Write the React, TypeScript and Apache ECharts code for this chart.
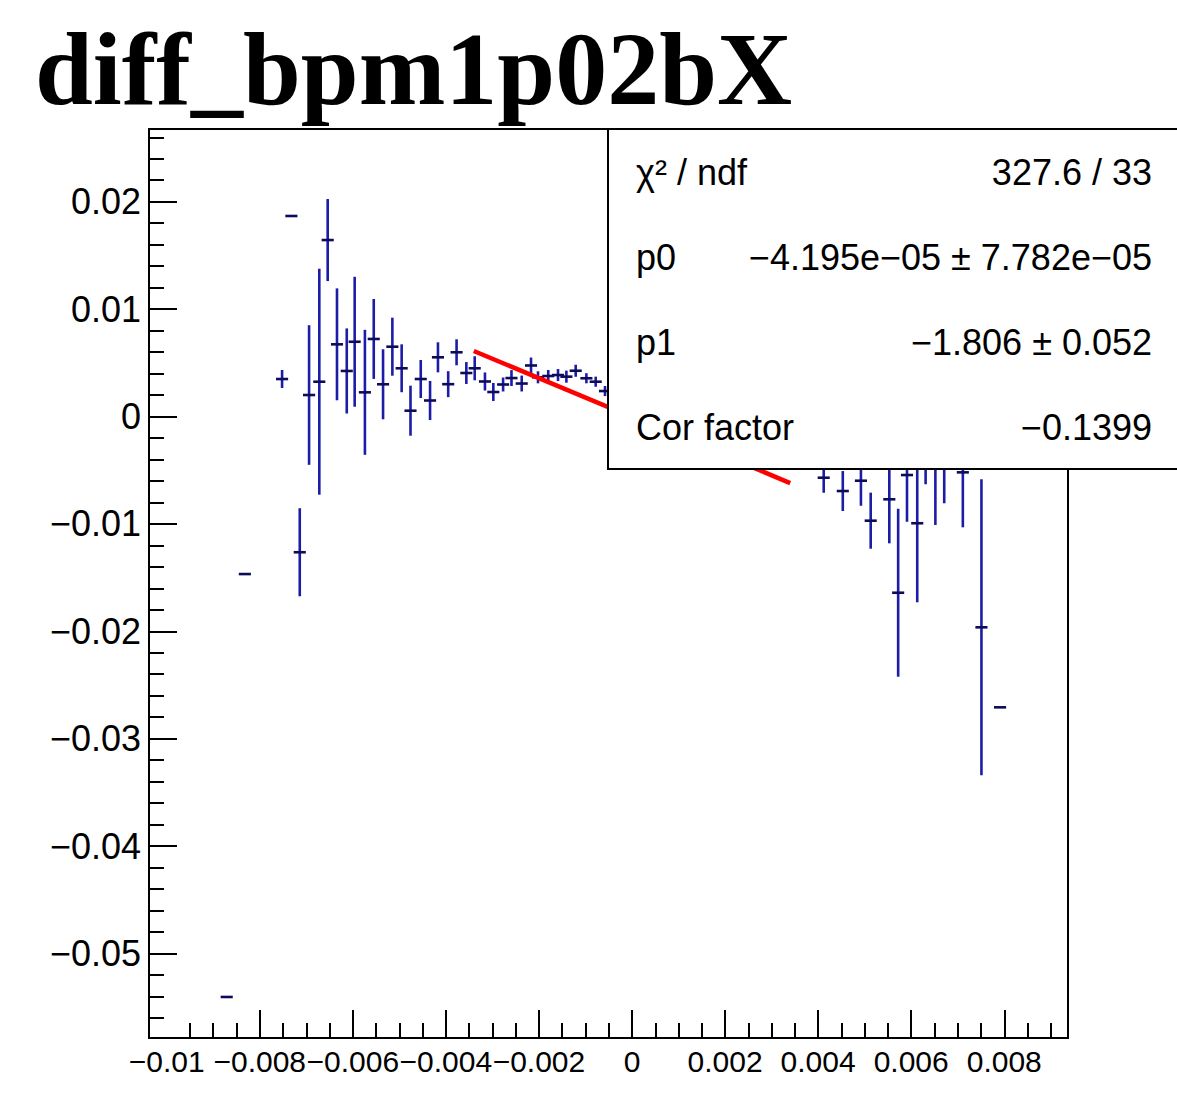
import React, { useEffect, useRef } from "react";
import * as echarts from "echarts";

// ---------- axis ranges ----------
const X_MIN = -0.01038;
const X_MAX = 0.00937;
const Y_MIN = -0.05787;
const Y_MAX = 0.02677;

// ---------- tick labels ----------
const xTickLabels = [-0.01, -0.008, -0.006, -0.004, -0.002, 0, 0.002, 0.004, 0.006, 0.008];
const xMajorTicks = [-0.008, -0.006, -0.004, -0.002, 0, 0.002, 0.004, 0.006, 0.008];
const yTickLabels = [-0.05, -0.04, -0.03, -0.02, -0.01, 0, 0.01, 0.02];

// ---------- data points (profile) ----------
const xVals = [
  -0.00871, -0.00832, -0.00752, -0.00732, -0.00714, -0.00694, -0.00672, -0.00654,
  -0.00634, -0.00613, -0.00596, -0.00574, -0.00555, -0.00535, -0.00515, -0.00495,
  -0.00476, -0.00454, -0.00434, -0.00417, -0.00395, -0.00377, -0.00356, -0.00338,
  -0.00316, -0.00298, -0.00277, -0.00259, -0.00237, -0.00217, -0.00202, -0.0018,
  -0.00159, -0.00141, -0.00121, -0.00098, -0.00078, -0.00058,
  0.00412, 0.00453, 0.00492, 0.00513, 0.00553, 0.00572, 0.00591, 0.00613,
  0.00631, 0.00652, 0.00671, 0.00711, 0.00751, 0.00791,
];
const yVals = [
  -0.05405, -0.01467, 0.00349, 0.01867, -0.01264, 0.002, 0.00324, 0.01643,
  0.00672, 0.00424, 0.00696, 0.00225, 0.00722, 0.003, 0.0065, 0.00449,
  0.00054, 0.00349, 0.00149, 0.00551, 0.00301, 0.00598, 0.00405, 0.00449,
  0.00326, 0.00228, 0.00298, 0.00358, 0.00307, 0.00475, 0.00365, 0.00377,
  0.00386, 0.00371, 0.00426, 0.00356, 0.00324, 0.00237,
  -0.0057, -0.00694, -0.00598, -0.0097, -0.00771, -0.01641, -0.00545, -0.00994,
  -0.00358, -0.00405, -0.00358, -0.0052, -0.01963, -0.02708,
];
const yErrs = [
  0, 0, 0.00084, 0, 0.0041, 0.0065, 0.01052, 0.00382,
  0.00521, 0.00396, 0.00605, 0.00582, 0.00372, 0.00326, 0.0027, 0.00223,
  0.00233, 0.00177, 0.00182, 0.0014, 0.00121, 0.00121, 0.00102, 0.00112,
  0.00084, 0.00084, 0.00065, 0.00074, 0.00074, 0.00074, 0.00056, 0.00056,
  0.00056, 0.00056, 0.00056, 0.00047, 0.00047, 0.00047,
  0.0014, 0.00186, 0.00233, 0.00261, 0.0041, 0.00782, 0.00435, 0.00736,
  0.00273, 0.00605, 0.0045, 0.00512, 0.01378, 0,
];
const X_HALF_WIDTH = 0.00013;

// ---------- fit line (pol1) ----------
const fitX = [-0.0034, 0.0034];
const fitY = [0.0061, -0.0062];

// ---------- stats box ----------
const statLabels = ["χ² / ndf", "p0", "p1", "Cor factor"];
const statValues = ["327.6 / 33", "−4.195e−05 ± 7.782e−05", "−1.806 ± 0.052", "−0.1399"];

const TITLE = "diff_bpm1p02bX";

const FONT = '"Liberation Sans", Arial, Helvetica, sans-serif';

function fmt(v: number): string {
  if (Math.abs(v) < 1e-12) return "0";
  return String(Number(v.toPrecision(6))).replace("-", "\u2212");
}

function minorTicks(step: number, kFrom: number, kTo: number, every: number): number[] {
  const out: number[] = [];
  for (let k = kFrom; k <= kTo; k++) {
    if (k % every === 0) continue;
    out.push(Number((k * step).toFixed(6)));
  }
  return out;
}

export default function App() {
  const ref = useRef<HTMLDivElement>(null);

  useEffect(() => {
    const chart = echarts.init(ref.current!, null, { renderer: "svg" });
    const pts = xVals.map((x, i) => [x, yVals[i], yErrs[i]]);
    const xMinor = minorTicks(0.0005, -19, 18, 4);
    const yMinor = minorTicks(0.002, -28, 13, 5);

    const gridLeft = 149;
    const gridTop = 129;
    const gridW = 919;
    const gridH = 909;

    const statTexts: any[] = [];
    const rowY = [172.5, 257, 342.3, 427.3];
    statLabels.forEach((t, i) => {
      statTexts.push({
        type: "text",
        x: 636,
        y: rowY[i],
        z: 101,
        style: {
          text: t,
          fill: "#000",
          font: `36px ${FONT}`,
          align: "left",
          verticalAlign: "middle",
        },
      });
      statTexts.push({
        type: "text",
        x: 1152,
        y: rowY[i],
        z: 101,
        style: {
          text: statValues[i],
          fill: "#000",
          font: `36px ${FONT}`,
          align: "right",
          verticalAlign: "middle",
        },
      });
    });

    const axisLineStyle = { color: "#000", width: 2 };

    const option: any = {
      animation: false,
      backgroundColor: "#fff",
      grid: {
        left: gridLeft,
        top: gridTop,
        width: gridW,
        height: gridH,
        show: true,
        borderColor: "#000",
        borderWidth: 2,
        backgroundColor: "transparent",
      },
      xAxis: [
        {
          type: "value",
          min: X_MIN,
          max: X_MAX,
          position: "bottom",
          offset: 0,
          splitLine: { show: false },
          axisLine: { show: true, onZero: false, lineStyle: axisLineStyle },
          axisTick: {
            show: true,
            inside: true,
            length: 28,
            customValues: xMajorTicks,
            lineStyle: axisLineStyle,
          },
          axisLabel: {
            show: true,
            customValues: xTickLabels,
            margin: 8,
            formatter: (v: number) => fmt(v),
            hideOverlap: false,
            showMinLabel: true,
            showMaxLabel: true,
            color: "#000",
            fontSize: 30,
            fontFamily: FONT,
          },
        },
        {
          type: "value",
          min: X_MIN,
          max: X_MAX,
          position: "bottom",
          offset: 0,
          splitLine: { show: false },
          axisLine: { show: false, onZero: false },
          axisTick: {
            show: true,
            inside: true,
            length: 15,
            customValues: xMinor,
            lineStyle: axisLineStyle,
          },
          axisLabel: { show: false },
        },
      ],
      yAxis: [
        {
          type: "value",
          min: Y_MIN,
          max: Y_MAX,
          position: "left",
          offset: 0,
          splitLine: { show: false },
          axisLine: { show: true, onZero: false, lineStyle: axisLineStyle },
          axisTick: {
            show: true,
            inside: true,
            length: 28,
            customValues: yTickLabels,
            lineStyle: axisLineStyle,
          },
          axisLabel: {
            show: true,
            customValues: yTickLabels,
            margin: 8,
            formatter: (v: number) => fmt(v),
            hideOverlap: false,
            color: "#000",
            fontSize: 36,
            fontFamily: FONT,
          },
        },
        {
          type: "value",
          min: Y_MIN,
          max: Y_MAX,
          position: "left",
          offset: 0,
          splitLine: { show: false },
          axisLine: { show: false, onZero: false },
          axisTick: {
            show: true,
            inside: true,
            length: 15,
            customValues: yMinor,
            lineStyle: axisLineStyle,
          },
          axisLabel: { show: false },
        },
      ],
      series: [
        {
          type: "custom",
          xAxisIndex: 0,
          yAxisIndex: 0,
          clip: true,
          z: 3,
          data: pts,
          encode: { x: 0, y: 1 },
          renderItem: (params: any, api: any) => {
            const x = api.value(0);
            const y = api.value(1);
            const e = api.value(2);
            const l = api.coord([x - X_HALF_WIDTH, y]);
            const r = api.coord([x + X_HALF_WIDTH, y]);
            const children: any[] = [];
            if (e > 0) {
              const top = api.coord([x, y + e]);
              const bot = api.coord([x, y - e]);
              children.push({
                type: "line",
                shape: { x1: top[0], y1: top[1], x2: bot[0], y2: bot[1] },
                style: { stroke: "#1c1ca6", lineWidth: 2.6 },
              });
            }
            children.push({
              type: "line",
              shape: { x1: l[0], y1: l[1], x2: r[0], y2: r[1] },
              style: { stroke: "#0c0c5a", lineWidth: 2.6 },
            });
            return { type: "group", children };
          },
        },
        {
          type: "line",
          xAxisIndex: 0,
          yAxisIndex: 0,
          z: 5,
          showSymbol: false,
          symbol: "none",
          silent: true,
          data: fitX.map((x, i) => [x, fitY[i]]),
          lineStyle: { color: "#ff0000", width: 4.5 },
        },
      ],
      graphic: [
        {
          type: "text",
          x: 35,
          y: 68,
          z: 100,
          style: {
            text: TITLE,
            fill: "#000",
            font: 'bold 104px "Liberation Serif", "Times New Roman", serif',
            align: "left",
            verticalAlign: "middle",
          },
        },
        {
          type: "rect",
          z: 100,
          shape: { x: 608, y: 129, width: 640, height: 340 },
          style: { fill: "#fff", stroke: "#000", lineWidth: 2 },
        },
        ...statTexts,
      ],
    };

    chart.setOption(option);
    return () => chart.dispose();
  }, []);

  return (
    <div
      ref={ref}
      style={{ position: "fixed", left: 0, top: 0, width: 1177, height: 1095, background: "#fff" }}
    />
  );
}
